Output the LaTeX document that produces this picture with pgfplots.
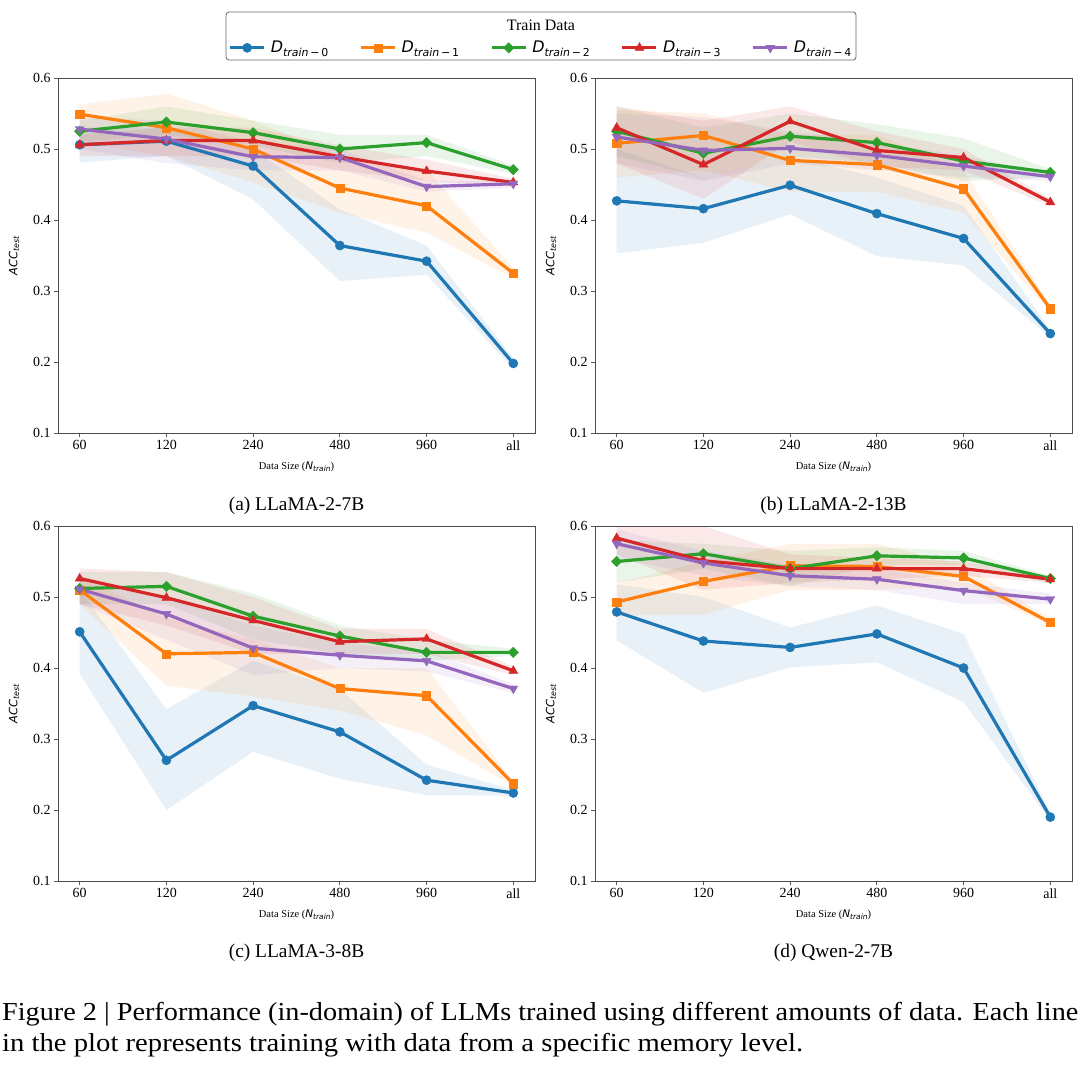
\documentclass[border=0pt]{standalone}
\usepackage{fontspec}
\setmainfont{Liberation Serif}
\newfontfamily\djv{DejaVu Sans}
\usepackage{graphicx}
\usepackage{pgfplots}
\pgfplotsset{compat=1.18}
\usepgfplotslibrary{fillbetween}
\usepackage{pgfplotstable}

\definecolor{c0}{HTML}{1F77B4}
\definecolor{c1}{HTML}{FF7F0E}
\definecolor{c2}{HTML}{2CA02C}
\definecolor{c3}{HTML}{D62728}
\definecolor{c4}{HTML}{9467BD}

\pgfplotstableread{
x m0 l0 h0 m1 l1 h1 m2 l2 h2 m3 l3 h3 m4 l4 h4
0 0.506 0.481 0.530 0.549 0.510 0.563 0.525 0.510 0.540 0.506 0.490 0.520 0.528 0.500 0.545
1 0.511 0.490 0.530 0.530 0.490 0.578 0.538 0.520 0.560 0.512 0.490 0.530 0.514 0.480 0.540
2 0.476 0.429 0.500 0.500 0.453 0.540 0.523 0.505 0.540 0.512 0.490 0.530 0.489 0.470 0.510
3 0.364 0.314 0.415 0.445 0.410 0.490 0.500 0.480 0.520 0.489 0.470 0.505 0.488 0.470 0.500
4 0.342 0.323 0.364 0.420 0.382 0.470 0.509 0.490 0.520 0.469 0.455 0.485 0.447 0.440 0.455
5 0.198 0.190 0.205 0.325 0.318 0.332 0.471 0.465 0.477 0.453 0.448 0.458 0.451 0.445 0.456
}\tA
\pgfplotstableread{
x m0 l0 h0 m1 l1 h1 m2 l2 h2 m3 l3 h3 m4 l4 h4
0 0.427 0.353 0.500 0.508 0.460 0.555 0.525 0.490 0.560 0.530 0.480 0.560 0.517 0.480 0.550
1 0.416 0.368 0.460 0.519 0.470 0.550 0.494 0.460 0.530 0.478 0.430 0.540 0.498 0.455 0.545
2 0.449 0.408 0.490 0.484 0.440 0.520 0.518 0.490 0.550 0.539 0.510 0.560 0.501 0.480 0.525
3 0.409 0.349 0.460 0.478 0.440 0.520 0.509 0.480 0.535 0.498 0.475 0.525 0.491 0.470 0.510
4 0.374 0.336 0.420 0.444 0.410 0.470 0.483 0.455 0.515 0.488 0.470 0.500 0.476 0.460 0.490
5 0.240 0.235 0.245 0.275 0.270 0.280 0.467 0.460 0.472 0.425 0.420 0.430 0.461 0.455 0.466
}\tB
\pgfplotstableread{
x m0 l0 h0 m1 l1 h1 m2 l2 h2 m3 l3 h3 m4 l4 h4
0 0.451 0.392 0.510 0.510 0.490 0.530 0.512 0.490 0.535 0.526 0.490 0.540 0.511 0.490 0.530
1 0.270 0.200 0.342 0.420 0.375 0.470 0.515 0.490 0.535 0.499 0.460 0.535 0.476 0.440 0.500
2 0.347 0.282 0.410 0.422 0.360 0.440 0.473 0.440 0.505 0.467 0.420 0.500 0.428 0.390 0.460
3 0.310 0.244 0.370 0.371 0.340 0.400 0.445 0.420 0.460 0.437 0.420 0.455 0.418 0.400 0.435
4 0.242 0.221 0.264 0.361 0.305 0.400 0.422 0.410 0.440 0.441 0.420 0.455 0.410 0.395 0.425
5 0.224 0.220 0.228 0.237 0.233 0.241 0.422 0.417 0.427 0.396 0.390 0.402 0.371 0.365 0.377
}\tC
\pgfplotstableread{
x m0 l0 h0 m1 l1 h1 m2 l2 h2 m3 l3 h3 m4 l4 h4
0 0.479 0.439 0.518 0.493 0.474 0.520 0.550 0.520 0.580 0.583 0.560 0.605 0.575 0.555 0.595
1 0.438 0.365 0.500 0.522 0.475 0.550 0.561 0.540 0.575 0.551 0.510 0.600 0.548 0.530 0.565
2 0.429 0.401 0.457 0.544 0.510 0.575 0.540 0.515 0.565 0.540 0.520 0.560 0.530 0.515 0.545
3 0.448 0.408 0.488 0.543 0.510 0.575 0.558 0.545 0.570 0.540 0.525 0.555 0.525 0.510 0.540
4 0.400 0.352 0.448 0.529 0.515 0.545 0.555 0.545 0.565 0.540 0.530 0.550 0.509 0.490 0.520
5 0.190 0.185 0.195 0.464 0.460 0.470 0.526 0.520 0.530 0.525 0.520 0.530 0.497 0.490 0.505
}\tD

\newcommand\band[4]{%
  \addplot[name path=#4u#2, draw=none, forget plot] table[x=x,y=h#2]{#1};
  \addplot[name path=#4l#2, draw=none, forget plot] table[x=x,y=l#2]{#1};
  \addplot[fill=#3, fill opacity=0.1, draw=none, forget plot] fill between[of=#4u#2 and #4l#2];
}
\newcommand\allbands[2]{%
  \band{#1}{0}{c0}{#2}\band{#1}{1}{c1}{#2}\band{#1}{2}{c2}{#2}\band{#1}{3}{c3}{#2}\band{#1}{4}{c4}{#2}}
\newcommand\alllines[1]{%
  \addplot[c0, line width=3.2bp, mark=*, mark size=4.6bp, mark options={line width=0.4bp, fill=c0}] table[x=x,y=m0]{#1};
  \addplot[c1, line width=3.2bp, mark=square*, mark size=4.1bp, mark options={line width=0.4bp, fill=c1}] table[x=x,y=m1]{#1};
  \addplot[c2, line width=3.2bp, mark=square*, mark size=3.7bp, mark options={line width=0.4bp, fill=c2, rotate=45}] table[x=x,y=m2]{#1};
  \addplot[c3, line width=3.2bp, mark=triangle*, mark size=5.2bp, mark options={line width=0.4bp, fill=c3}] table[x=x,y=m3]{#1};
  \addplot[c4, line width=3.2bp, mark=triangle*, mark size=5.2bp, mark options={line width=0.4bp, fill=c4, rotate=180}] table[x=x,y=m4]{#1};
}
\newcommand\Dl[1]{{\djv\textit{D}\raisebox{-0.45ex}{\fontsize{11}{12}\selectfont\textit{train}\,−\,#1}}}

\pgfplotsset{
  panel/.style={
    scale only axis, width=477bp, height=355bp,
    xmin=-0.25, xmax=5.25, ymin=0.1, ymax=0.6,
    xtick={0,1,2,3,4,5}, xticklabels={60,120,240,480,960,all},
    ytick={0.1,0.2,0.3,0.4,0.5,0.6}, yticklabels={0.1,0.2,0.3,0.4,0.5,0.6},
    tick pos=left, tick align=outside, major tick length=4bp,
    every tick/.style={black!65, line width=0.8bp},
    axis line style={black!70, line width=1bp},
    xticklabel style={font=\fontsize{14}{16}\selectfont},
    yticklabel style={font=\fontsize{14}{16}\selectfont},
    xlabel={Data Size ({\djv\itshape N}\raisebox{-0.35ex}{\djv\itshape\fontsize{7.5}{8}\selectfont train})},
    xlabel style={font=\fontsize{10.5}{12}\selectfont, at={(axis description cs:0.5,-0.104)}, anchor=base},
    ylabel={{\djv\itshape ACC}\raisebox{-0.35ex}{\djv\itshape\fontsize{8}{9}\selectfont test}},
    ylabel style={font=\fontsize{11.5}{13}\selectfont, at={(axis description cs:-0.092,0.5)}, anchor=center},
  },
}

\begin{document}
\begin{tikzpicture}
\path (0bp,0bp) rectangle (1080bp,-1070bp);
\draw[black!60, rounded corners=3bp, line width=0.8bp, fill=white] (226bp,-12bp) rectangle (856bp,-60bp);
\node[font=\fontsize{16}{18}\selectfont, anchor=base] at (541bp,-30bp) {Train Data};

\begin{axis}[panel, at={(58bp,-433bp)}, anchor=south west,
  legend columns=5,
  legend style={draw=none, fill=none, at={(1.0126,1.085)}, anchor=center,
    font=\fontsize{16}{18}\selectfont,
    /tikz/every even column/.append style={column sep=29bp},
    /tikz/every odd column/.append style={column sep=3bp}},
  legend image code/.code={\draw[mark repeat=2,mark phase=2,#1] plot coordinates {(0bp,0bp) (17bp,0bp) (34bp,0bp)};}]
\allbands{\tA}{a}
\alllines{\tA}
\legend{\Dl{0},\Dl{1},\Dl{2},\Dl{3},\Dl{4}}
\end{axis}

\begin{axis}[panel, at={(595bp,-433bp)}, anchor=south west]
\allbands{\tB}{b}
\alllines{\tB}
\end{axis}

\begin{axis}[panel, at={(58bp,-881bp)}, anchor=south west]
\allbands{\tC}{c}
\alllines{\tC}
\end{axis}

\begin{axis}[panel, at={(595bp,-881bp)}, anchor=south west]
\allbands{\tD}{d}
\alllines{\tD}
\end{axis}

\node[font=\fontsize{19.5}{22}\selectfont, anchor=base] at (296.5bp,-510bp) {(a) LLaMA-2-7B};
\node[font=\fontsize{19.5}{22}\selectfont, anchor=base] at (833.5bp,-510bp) {(b) LLaMA-2-13B};
\node[font=\fontsize{19.5}{22}\selectfont, anchor=base] at (296.5bp,-957bp) {(c) LLaMA-3-8B};
\node[font=\fontsize{19.5}{22}\selectfont, anchor=base] at (833.5bp,-957bp) {(d) Qwen-2-7B};

\node[font=\fontsize{26}{28}\selectfont, anchor=base west, inner sep=0pt] at (2bp,-1020bp)
  {\resizebox{1076bp}{\height}{Figure 2 | Performance (in-domain) of LLMs trained using different amounts of data. Each line}};
\node[font=\fontsize{26}{28}\selectfont, anchor=base west, inner sep=0pt] at (2bp,-1051bp)
  {\resizebox{801bp}{\height}{in the plot represents training with data from a specific memory level.}};
\end{tikzpicture}
\end{document}
